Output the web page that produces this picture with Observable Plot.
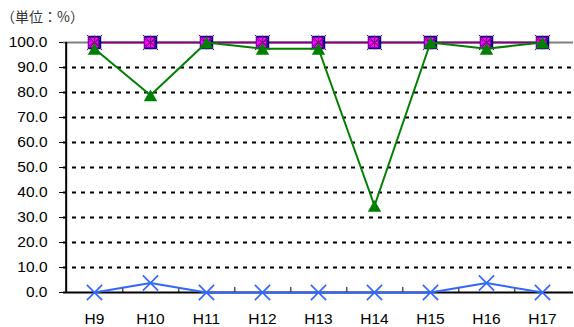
<!DOCTYPE html>
<html><head><meta charset="utf-8">
<script src="https://cdn.jsdelivr.net/npm/d3@7"></script>
<script src="https://cdn.jsdelivr.net/npm/@observablehq/plot@0.6"></script>
<style>
body{margin:0;background:#fff;}
#wrap{position:relative;width:574px;height:327px;}
#title{position:absolute;left:1px;top:6px;font:14px "Noto Sans CJK JP",sans-serif;color:#333;white-space:nowrap;}
#wrap svg{position:absolute;left:0;top:0;}
</style></head><body>
<div id="wrap"><div id="title">（単位：%）</div></div>
<script>
const categories = ["H9","H10","H11","H12","H13","H14","H15","H16","H17"];
const seriesA = [100,100,100,100,100,100,100,100,100]; // navy squares
const seriesB = [100,100,100,100,100,100,100,100,100]; // magenta squares, purple line
const seriesC = [100,100,100,100,100,100,100,100,100]; // purple asterisks
const seriesGreen = [97.5,78.9,100,97.5,97.5,34.7,100,97.5,100];
const seriesBlue = [0,3.8,0,0,0,0,0,3.8,0];
const yTicks = [0,10,20,30,40,50,60,70,80,90,100];
const gridTicks = [10,20,30,40,50,60,70,80,90];

const W = 574, H = 327, ML = 63, MR = 1, MT = 42, MB = 35;
const step = (W - ML - MR) / categories.length;
const rows = (vals) => categories.map((c, i) => ({c, v: vals[i]}));

const chart = Plot.plot({
  width: W, height: H,
  marginLeft: ML, marginRight: MR, marginTop: MT, marginBottom: MB,
  style: {fontFamily: "'Liberation Sans', Arial, sans-serif", fontSize: "15.5px", color: "#000", background: "transparent"},
  x: {type: "point", domain: categories, padding: 0.5, label: null},
  y: {domain: [0, 100], label: null},
  marks: [
    Plot.ruleY(gridTicks, {stroke: "#000", strokeWidth: 2, strokeDasharray: "4,5"}),
    Plot.ruleY([100], {stroke: "#808080", strokeWidth: 2}),
    Plot.ruleY([0], {stroke: "#000", strokeWidth: 2}),
    Plot.ruleX([categories[0]], {y1: 0, y2: 100, dx: -step / 2, stroke: "#000", strokeWidth: 2}),
    Plot.ruleX(categories.slice(0, -1), {y1: 0, y2: 2, dx: step / 2, stroke: "#000", strokeWidth: 1}),
    Plot.axisY(yTicks, {tickFormat: d3.format(".1f"), tickSize: 4, tickPadding: 12, stroke: "#000", label: null}),
    Plot.axisX({tickSize: 0, tickPadding: 20, label: null}),
    Plot.line(rows(seriesB), {x: "c", y: "v", stroke: "#800080", strokeWidth: 2}),
    Plot.dot(rows(seriesA), {x: "c", y: "v", symbol: "square", r: 7.3, fill: "#000080", stroke: "#000080", strokeWidth: 0.5}),
    Plot.dot(rows(seriesB), {x: "c", y: "v", symbol: "square", r: 5.6, fill: "#ff00ff", dx: -1}),
    Plot.dot(rows(seriesC), {x: "c", y: "v", symbol: "asterisk", r: 6.5, stroke: "#800080", strokeWidth: 1}),
    Plot.dot(rows(seriesC), {x: "c", y: "v", symbol: "times", r: 7, stroke: "#800080", strokeWidth: 1}),
    Plot.line(rows(seriesBlue), {x: "c", y: "v", stroke: "#3366ff", strokeWidth: 2}),
    Plot.dot(rows(seriesBlue), {x: "c", y: "v", symbol: "times", r: 7, stroke: "#3366ff", strokeWidth: 1.6}),
    Plot.line(rows(seriesGreen), {x: "c", y: "v", stroke: "#008000", strokeWidth: 2}),
    Plot.dot(rows(seriesGreen), {x: "c", y: "v", symbol: "triangle", r: 5, fill: "#008000", dy: 2})
  ]
});
document.getElementById("wrap").appendChild(chart);
</script>
</body></html>
